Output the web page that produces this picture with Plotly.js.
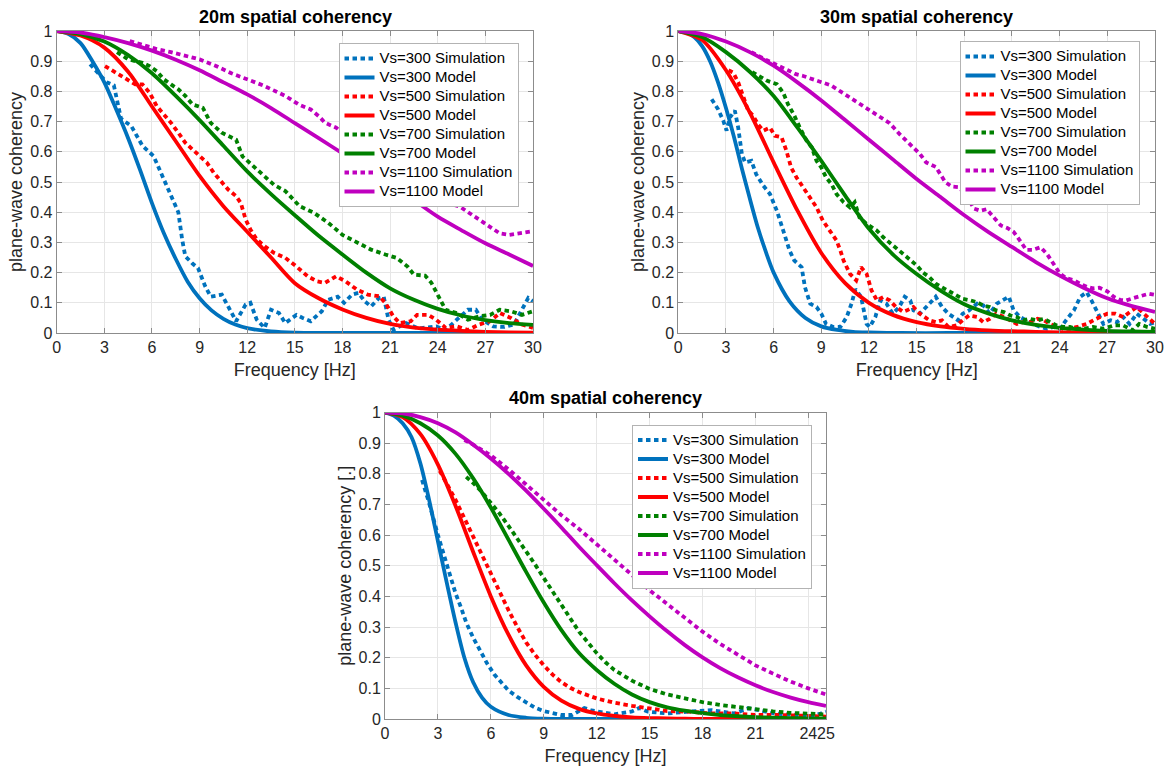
<!DOCTYPE html>
<html>
<head>
<meta charset="utf-8">
<script src="https://cdn.plot.ly/plotly-3.0.1.min.js"></script>
<style>html,body{margin:0;padding:0;background:#fff;}#chart{width:1170px;height:769px;}</style>
</head>
<body>
<div id="chart"></div>
<script>
// ---------- labels ----------
const panelTitles = ['20m spatial coherency', '30m spatial coherency', '40m spatial coherency'];
const seriesNames = ['Vs=300 Simulation','Vs=300 Model','Vs=500 Simulation','Vs=500 Model',
                     'Vs=700 Simulation','Vs=700 Model','Vs=1100 Simulation','Vs=1100 Model'];
const xTitle = 'Frequency [Hz]';
const yTitles = ['plane-wave coherency', 'plane-wave coherency', 'plane-wave coherency [.]'];
const xTicks12 = [0,3,6,9,12,15,18,21,24,27,30];
const xTicks3 = [0,3,6,9,12,15,18,21,24,25];
const yTicks = [0,0.1,0.2,0.3,0.4,0.5,0.6,0.7,0.8,0.9,1];

// ---------- Panel 1 (20 m) ----------
const p1_f300_model = [0,0.75,1.5,2.25,3,3.75,4.5,5.25,6,6.75,7.5,8.25,9,9.75,10.5,11.25,12,13.5,15,18,21,24,27,30];
const p1_vs300_model = [1,0.99,0.96,0.9,0.83,0.74,0.645,0.54,0.43,0.33,0.245,0.17,0.115,0.075,0.047,0.028,0.016,0.005,0.001,0,0,0,0,0];
const p1_f_model = [0,1.5,3,4.5,6,7.5,9,10.5,12,13.5,15,16.5,18,19.5,21,22.5,24,25.5,27,28.5,30];
const p1_vs500_model = [1,0.985,0.945,0.865,0.75,0.635,0.52,0.42,0.335,0.25,0.165,0.115,0.078,0.05,0.03,0.018,0.011,0.007,0.004,0.002,0.001];
const p1_vs700_model = [1,0.99,0.965,0.92,0.86,0.785,0.705,0.62,0.535,0.46,0.39,0.322,0.26,0.2,0.148,0.11,0.08,0.058,0.043,0.033,0.027];
const p1_vs1100_model = [1,0.995,0.98,0.96,0.935,0.905,0.87,0.83,0.79,0.745,0.695,0.645,0.595,0.545,0.495,0.44,0.385,0.34,0.297,0.26,0.222];

const p1_vs300_sim = [[2.1,0.89],[3.15,0.83],[3.6,0.82],[4.05,0.71],[4.7,0.685],[5.4,0.62],[6.1,0.586],[6.5,0.54],[7.0,0.475],[7.4,0.43],[7.66,0.40],[7.9,0.31],[8.1,0.254],[8.55,0.23],[8.9,0.215],[9.35,0.155],[9.7,0.12],[10.4,0.127],[10.8,0.088],[11.3,0.039],[11.9,0.094],[12.2,0.1],[12.6,0.044],[13.1,0.017],[13.5,0.077],[14.0,0.066],[14.4,0.033],[15.1,0.06],[15.5,0.05],[16.0,0.039],[16.7,0.072],[17.1,0.11],[17.7,0.12],[18.1,0.1],[18.6,0.127],[19.0,0.133],[19.4,0.105],[19.8,0.088],[20.3,0.116],[20.6,0.12],[20.9,0.044],[21.2,0.011],[22.0,0.033],[22.8,0.015],[23.9,0.022],[24.5,0.01],[25.2,0.044],[25.9,0.077],[26.4,0.077],[26.8,0.044],[27.5,0.022],[28.2,0.02],[28.8,0.028],[29.3,0.077],[29.7,0.116],[30,0.105]];
const p1_vs500_sim = [[3.04,0.884],[3.6,0.867],[4.3,0.845],[4.95,0.823],[5.4,0.823],[5.85,0.796],[6.3,0.751],[6.75,0.724],[7.2,0.696],[7.66,0.663],[8.1,0.63],[8.55,0.608],[9,0.586],[9.46,0.564],[9.9,0.53],[10.4,0.497],[10.8,0.475],[11.3,0.453],[11.6,0.43],[11.9,0.376],[12.2,0.343],[12.6,0.31],[13.1,0.287],[13.7,0.265],[14.4,0.249],[15.1,0.22],[15.8,0.188],[16.4,0.171],[16.9,0.166],[17.6,0.188],[18.2,0.171],[18.9,0.144],[19.6,0.127],[20.3,0.122],[20.7,0.1],[21.2,0.055],[21.6,0.033],[22.3,0.039],[22.7,0.06],[23.4,0.06],[23.9,0.044],[24.5,0.017],[25.2,0.022],[25.9,0.01],[26.6,0.028],[27.3,0.039],[27.9,0.066],[28.6,0.05],[29.3,0.028],[30,0.017]];
const p1_vs700_sim = [[3.8,0.93],[4.5,0.906],[5.4,0.895],[5.85,0.884],[6.3,0.867],[6.75,0.84],[7.2,0.823],[7.66,0.807],[8.1,0.785],[8.55,0.757],[9.2,0.746],[9.7,0.696],[10.4,0.663],[10.8,0.652],[11.3,0.64],[11.7,0.585],[12.4,0.552],[13.1,0.52],[13.7,0.49],[14.4,0.47],[15.3,0.42],[16.2,0.398],[17.1,0.365],[18,0.325],[18.9,0.3],[19.8,0.276],[20.7,0.26],[21.4,0.249],[22.1,0.22],[22.5,0.193],[23.2,0.19],[23.6,0.166],[24.1,0.116],[24.5,0.077],[25.2,0.066],[25.9,0.044],[26.6,0.055],[27.3,0.06],[27.9,0.077],[28.6,0.072],[29.3,0.06],[30,0.072]];
const p1_vs1100_sim = [[4.6,0.967],[6.3,0.94],[7.2,0.93],[9,0.906],[10,0.885],[11,0.86],[12,0.84],[13,0.82],[14.4,0.785],[15.3,0.755],[16,0.74],[16.55,0.716],[16.9,0.696],[17.6,0.68],[18,0.662],[19,0.625],[20,0.585],[21,0.545],[22,0.505],[23,0.47],[24.1,0.44],[25.4,0.418],[26.2,0.39],[27,0.363],[27.9,0.33],[28.5,0.325],[29.3,0.332],[30,0.337]];

// ---------- Panel 2 (30 m) ----------
const p2_f300_model = [0,0.5,1,1.5,2,2.5,3,3.5,4,4.5,5,5.5,6,7,8,9,10,11,12,14,17,20,25,30];
const p2_vs300_model = [1,0.995,0.98,0.95,0.9,0.83,0.745,0.65,0.545,0.445,0.35,0.27,0.2,0.105,0.05,0.022,0.01,0.004,0.002,0,0,0,0,0];
const p2_f_model = [0,1.5,3,4.5,6,7.5,9,10.5,12,13.5,15,16.5,18,19.5,21,22.5,24,25.5,27,28.5,30];
const p2_vs500_model = [1,0.97,0.87,0.73,0.565,0.405,0.265,0.165,0.1,0.06,0.036,0.022,0.014,0.009,0.006,0.004,0.002,0.0015,0.001,0.0005,0];
const p2_vs700_model = [1,0.98,0.93,0.865,0.785,0.68,0.57,0.455,0.345,0.26,0.195,0.14,0.095,0.065,0.042,0.027,0.017,0.011,0.007,0.005,0.004];
const p2_vs1100_model = [1,0.99,0.965,0.93,0.885,0.83,0.77,0.705,0.64,0.575,0.51,0.45,0.39,0.335,0.285,0.235,0.19,0.15,0.115,0.09,0.07];

const p2_vs300_sim = [[2.1,0.774],[2.5,0.741],[2.83,0.703],[3.04,0.67],[3.25,0.714],[3.56,0.736],[3.77,0.68],[4,0.593],[4.2,0.565],[4.6,0.57],[4.9,0.526],[5.35,0.488],[5.77,0.46],[6.2,0.405],[6.6,0.34],[7,0.273],[7.3,0.24],[7.76,0.218],[7.97,0.152],[8.3,0.097],[8.7,0.086],[9,0.064],[9.3,0.03],[9.75,0.02],[10.2,0.02],[10.6,0.053],[10.9,0.097],[11.15,0.145],[11.5,0.12],[11.85,0.03],[12.05,0.02],[12.4,0.053],[12.7,0.108],[13.1,0.097],[13.5,0.064],[13.9,0.086],[14.25,0.12],[14.6,0.108],[14.8,0.075],[15.2,0.064],[15.8,0.097],[16.2,0.12],[16.6,0.086],[17,0.064],[17.6,0.042],[17.9,0.064],[18.3,0.075],[18.8,0.097],[19.2,0.091],[19.6,0.064],[20.04,0.097],[20.5,0.113],[20.8,0.12],[21.1,0.075],[21.5,0.053],[21.9,0.042],[22.3,0.03],[22.8,0.02],[23.2,0.014],[23.6,0.02],[24,0.014],[24.4,0.042],[24.9,0.075],[25.3,0.12],[25.7,0.135],[26,0.108],[26.4,0.064],[26.75,0.03],[27.2,0.042],[27.6,0.036],[28,0.053],[28.4,0.03],[28.85,0.064],[29.3,0.047],[29.7,0.03],[30,0.036]];
const p2_vs500_sim = [[3.16,0.87],[3.46,0.862],[3.77,0.83],[4.1,0.78],[4.4,0.736],[4.7,0.72],[5.03,0.69],[5.35,0.67],[5.77,0.68],[6.08,0.653],[6.5,0.648],[6.8,0.604],[7.1,0.548],[7.44,0.515],[7.86,0.482],[8.3,0.45],[8.7,0.416],[9.1,0.372],[9.5,0.34],[9.96,0.306],[10.2,0.273],[10.4,0.24],[10.8,0.196],[11.2,0.174],[11.5,0.218],[11.85,0.196],[12.16,0.141],[12.5,0.108],[12.9,0.119],[13.3,0.108],[13.7,0.086],[14.15,0.07],[14.4,0.075],[14.8,0.086],[15.2,0.064],[15.8,0.042],[16.2,0.036],[16.6,0.042],[17,0.02],[17.5,0.025],[17.9,0.042],[18.3,0.058],[18.8,0.053],[19.2,0.036],[19.6,0.047],[20,0.064],[20.5,0.053],[20.9,0.042],[21.3,0.03],[21.7,0.036],[22.1,0.036],[22.6,0.047],[23,0.042],[23.4,0.03],[23.8,0.02],[24.2,0.014],[24.65,0.014],[25.1,0.02],[25.7,0.03],[26.3,0.047],[27,0.064],[27.5,0.064],[28,0.053],[28.4,0.069],[28.85,0.086],[29.3,0.064],[29.7,0.042],[30,0.03]];
const p2_vs700_sim = [[4.65,0.864],[5.1,0.85],[5.6,0.835],[6.2,0.824],[6.6,0.796],[6.9,0.758],[7.3,0.72],[7.65,0.68],[8.07,0.637],[8.4,0.615],[8.7,0.57],[9,0.548],[9.3,0.515],[9.64,0.493],[9.96,0.46],[10.4,0.433],[10.8,0.416],[11.1,0.433],[11.4,0.383],[11.85,0.361],[12.16,0.35],[12.5,0.339],[12.9,0.317],[13.3,0.3],[13.7,0.28],[14.15,0.262],[14.6,0.245],[15,0.224],[15.4,0.2],[15.8,0.185],[16.2,0.163],[16.6,0.152],[17.1,0.135],[17.5,0.124],[17.9,0.113],[18.4,0.108],[18.8,0.102],[19.2,0.091],[19.6,0.086],[20,0.075],[20.5,0.069],[20.9,0.058],[21.3,0.053],[21.7,0.042],[22.1,0.047],[22.6,0.042],[23,0.047],[23.4,0.036],[23.8,0.025],[24.2,0.02],[24.65,0.02],[25.1,0.014],[25.5,0.014],[26.1,0.02],[26.75,0.014],[27.4,0.025],[28,0.025],[28.6,0.009],[29,0.03],[29.5,0.02],[30,0.014]];
const p2_vs1100_sim = [[4.6,0.93],[5.5,0.905],[6.9,0.87],[7.4,0.857],[7.86,0.851],[8.5,0.84],[9,0.83],[9.6,0.82],[10.2,0.8],[10.8,0.78],[11.4,0.76],[12.05,0.736],[12.7,0.714],[13.3,0.695],[13.9,0.66],[14.5,0.63],[15.2,0.593],[15.6,0.565],[16.2,0.55],[16.8,0.5],[17.2,0.485],[17.6,0.483],[17.9,0.47],[18.3,0.44],[18.6,0.412],[19,0.405],[19.4,0.41],[19.9,0.38],[20.3,0.356],[20.7,0.348],[21.1,0.335],[21.5,0.306],[21.9,0.275],[22.3,0.275],[22.8,0.284],[23.2,0.262],[23.6,0.229],[24,0.198],[24.4,0.182],[24.9,0.175],[25.3,0.163],[25.7,0.153],[26.1,0.148],[26.5,0.15],[27,0.138],[27.4,0.12],[27.8,0.11],[28.2,0.108],[28.6,0.115],[29,0.12],[29.6,0.13],[30,0.126]];

// ---------- Panel 3 (40 m) ----------
const p3_f300_model = [0,0.5,1,1.5,2,2.5,3,3.5,4,4.5,5,5.5,6,7,8,9,10,12,15,20,25];
const p3_vs300_model = [1,0.99,0.965,0.92,0.835,0.715,0.58,0.445,0.315,0.2,0.12,0.07,0.04,0.013,0.004,0.001,0,0,0,0,0];
const p3_f_model = [0,1,2,3,4,5,6,7,8,9,10,11,12,13,14,15,16,17,18,19,20,21,22,23,24,25];
const p3_vs500_model = [1,0.985,0.93,0.83,0.695,0.545,0.4,0.275,0.175,0.105,0.06,0.033,0.018,0.01,0.005,0.003,0.002,0.001,0,0,0,0,0,0,0,0];
const p3_vs700_model = [1,0.99,0.965,0.925,0.865,0.785,0.69,0.585,0.48,0.38,0.29,0.215,0.16,0.115,0.08,0.055,0.038,0.027,0.019,0.013,0.009,0.006,0.004,0.003,0.002,0.002];
const p3_vs1100_model = [1,0.997,0.985,0.965,0.935,0.895,0.85,0.8,0.745,0.686,0.625,0.562,0.502,0.443,0.387,0.335,0.286,0.241,0.201,0.166,0.136,0.11,0.088,0.07,0.055,0.043];

const p3_vs300_sim = [[2.1,0.78],[2.5,0.705],[3,0.6],[3.5,0.5],[4,0.41],[4.3,0.365],[4.6,0.315],[5,0.265],[5.4,0.22],[5.8,0.18],[6.2,0.145],[6.6,0.118],[7,0.093],[7.5,0.072],[8,0.053],[8.5,0.037],[9,0.026],[9.5,0.018],[10,0.013],[10.6,0.013],[11,0.026],[11.3,0.036],[11.7,0.028],[12.3,0.022],[13,0.015],[14,0.025],[14.4,0.036],[14.9,0.024],[16,0.018],[17.2,0.024],[18.5,0.029],[19.8,0.018],[20.6,0.035],[21.1,0.03],[22.1,0.018],[23.2,0.013],[24,0.008],[24.7,0.018],[25,0.024]];
const p3_vs500_sim = [[3.1,0.81],[3.5,0.77],[4,0.715],[4.5,0.655],[5,0.595],[5.5,0.53],[6,0.47],[6.5,0.41],[7,0.355],[7.5,0.3],[8,0.25],[8.5,0.21],[9,0.175],[9.5,0.145],[10,0.12],[10.5,0.102],[11,0.088],[12,0.067],[13,0.053],[14,0.043],[15,0.035],[16,0.026],[17.2,0.024],[18.5,0.018],[19.8,0.018],[21.1,0.013],[22.5,0.013],[23.6,0.01],[25,0.008]];
const p3_vs700_sim = [[4.6,0.79],[5,0.77],[5.5,0.74],[6,0.705],[6.5,0.67],[7,0.63],[7.5,0.59],[8,0.55],[8.5,0.505],[9,0.46],[9.5,0.415],[10,0.37],[10.5,0.325],[11,0.285],[11.5,0.25],[12,0.215],[12.5,0.185],[13,0.16],[14,0.125],[15,0.098],[16,0.08],[17,0.066],[18,0.055],[19,0.046],[20,0.038],[21,0.031],[22,0.025],[23,0.02],[24,0.017],[25,0.015]];
const p3_vs1100_sim = [[4.5,0.91],[5,0.895],[6,0.86],[7,0.815],[8,0.765],[9,0.715],[10,0.665],[11,0.62],[12,0.57],[13,0.52],[14,0.47],[15,0.42],[16,0.375],[17,0.33],[18,0.285],[19,0.245],[20,0.21],[21,0.175],[22,0.148],[23,0.122],[24,0.1],[24.5,0.09],[25,0.08]];

// ---------- styling ----------
const colors = ['#0072BD', '#FF0000', '#008000', '#BF00BF'];
const FONT = 'Liberation Sans, Arial, Helvetica, sans-serif';
const LW = 3.8;
const DOT = '4.5px,3.5px';

function label(name) { return '<span style="font-size:15px">' + name + '</span>'; }
function simTrace(pairs, ci, name, xa, ya, lg) {
  return {x: pairs.map(p => p[0]), y: pairs.map(p => p[1]), name: label(name), type: 'scatter', mode: 'lines',
    xaxis: xa, yaxis: ya, legend: lg,
    line: {color: colors[ci], width: LW, dash: DOT}};
}
function modelTrace(fx, vy, ci, name, xa, ya, lg) {
  return {x: fx, y: vy, name: label(name), type: 'scatter', mode: 'lines',
    xaxis: xa, yaxis: ya, legend: lg,
    line: {color: colors[ci], width: LW, shape: 'spline', smoothing: 0.8}};
}

const panels = [
  {xa: 'x', ya: 'y', lg: 'legend',
   sims: [p1_vs300_sim, p1_vs500_sim, p1_vs700_sim, p1_vs1100_sim],
   models: [[p1_f300_model, p1_vs300_model], [p1_f_model, p1_vs500_model], [p1_f_model, p1_vs700_model], [p1_f_model, p1_vs1100_model]]},
  {xa: 'x2', ya: 'y2', lg: 'legend2',
   sims: [p2_vs300_sim, p2_vs500_sim, p2_vs700_sim, p2_vs1100_sim],
   models: [[p2_f300_model, p2_vs300_model], [p2_f_model, p2_vs500_model], [p2_f_model, p2_vs700_model], [p2_f_model, p2_vs1100_model]]},
  {xa: 'x3', ya: 'y3', lg: 'legend3',
   sims: [p3_vs300_sim, p3_vs500_sim, p3_vs700_sim, p3_vs1100_sim],
   models: [[p3_f300_model, p3_vs300_model], [p3_f_model, p3_vs500_model], [p3_f_model, p3_vs700_model], [p3_f_model, p3_vs1100_model]]}
];

const data = [];
panels.forEach(p => {
  for (let i = 0; i < 4; i++) {
    data.push(simTrace(p.sims[i], i, seriesNames[2*i], p.xa, p.ya, p.lg));
    data.push(modelTrace(p.models[i][0], p.models[i][1], i, seriesNames[2*i+1], p.xa, p.ya, p.lg));
  }
});

const W = 1170, H = 769;
function px(x) { return x / W; }
function py(y) { return (H - y) / H; }

function xAxis(dom, range, tv, anchor) {
  return {domain: dom, range: range, anchor: anchor, tickvals: tv, ticktext: tv.map(String), tickangle: 0,
    showline: true, linecolor: '#8c8c8c', linewidth: 1, mirror: 'ticks',
    ticks: 'inside', ticklen: 5, tickcolor: '#8c8c8c', tickwidth: 1,
    showgrid: true, gridcolor: '#e6e6e6', gridwidth: 1, zeroline: false,
    tickfont: {family: FONT, size: 16, color: '#262626'},
    title: {text: xTitle, font: {family: FONT, size: 18, color: '#262626'}, standoff: 8}};
}
function yAxis(dom, anchor, title) {
  return {domain: dom, range: [0, 1], anchor: anchor, tickvals: yTicks, ticktext: yTicks.map(String), tickangle: 0,
    showline: true, linecolor: '#8c8c8c', linewidth: 1, mirror: 'ticks',
    ticks: 'inside', ticklen: 5, tickcolor: '#8c8c8c', tickwidth: 1,
    showgrid: true, gridcolor: '#e6e6e6', gridwidth: 1, zeroline: false,
    tickfont: {family: FONT, size: 16, color: '#262626'},
    title: {text: title, font: {family: FONT, size: 18, color: '#262626'}, standoff: 2}};
}
function legendCfg(right, top) {
  return {x: px(right), y: py(top), xanchor: 'right', yanchor: 'top',
    bgcolor: '#ffffff', bordercolor: '#b3b3b3', borderwidth: 1, itemwidth: 30,
    font: {family: FONT, size: 12.3, color: '#000000'}, tracegroupgap: 0};
}

const layout = {
  width: W, height: H, margin: {l: 0, r: 0, t: 0, b: 0},
  paper_bgcolor: '#ffffff', plot_bgcolor: '#ffffff', showlegend: true,
  xaxis: xAxis([px(56.7), px(533)], [0, 30], xTicks12, 'y'),
  yaxis: yAxis([py(333), py(31)], 'x', yTitles[0]),
  xaxis2: xAxis([px(678.3), px(1155)], [0, 30], xTicks12, 'y2'),
  yaxis2: yAxis([py(333), py(31)], 'x2', yTitles[1]),
  xaxis3: xAxis([px(385), px(826)], [0, 25], xTicks3, 'y3'),
  yaxis3: yAxis([py(719), py(412.5)], 'x3', yTitles[2]),
  legend: legendCfg(518.5, 43),
  legend2: legendCfg(1139.5, 41),
  legend3: legendCfg(812, 424.5),
  annotations: [
    {text: '<b>' + panelTitles[0] + '</b>', xref: 'paper', yref: 'paper', x: px(295), y: py(17), xanchor: 'center', yanchor: 'middle', showarrow: false, font: {family: FONT, size: 18, color: '#000'}},
    {text: '<b>' + panelTitles[1] + '</b>', xref: 'paper', yref: 'paper', x: px(916), y: py(17), xanchor: 'center', yanchor: 'middle', showarrow: false, font: {family: FONT, size: 18, color: '#000'}},
    {text: '<b>' + panelTitles[2] + '</b>', xref: 'paper', yref: 'paper', x: px(605), y: py(398), xanchor: 'center', yanchor: 'middle', showarrow: false, font: {family: FONT, size: 18, color: '#000'}}
  ]
};

Plotly.newPlot('chart', data, layout, {displayModeBar: false, staticPlot: true});
</script>
</body>
</html>
